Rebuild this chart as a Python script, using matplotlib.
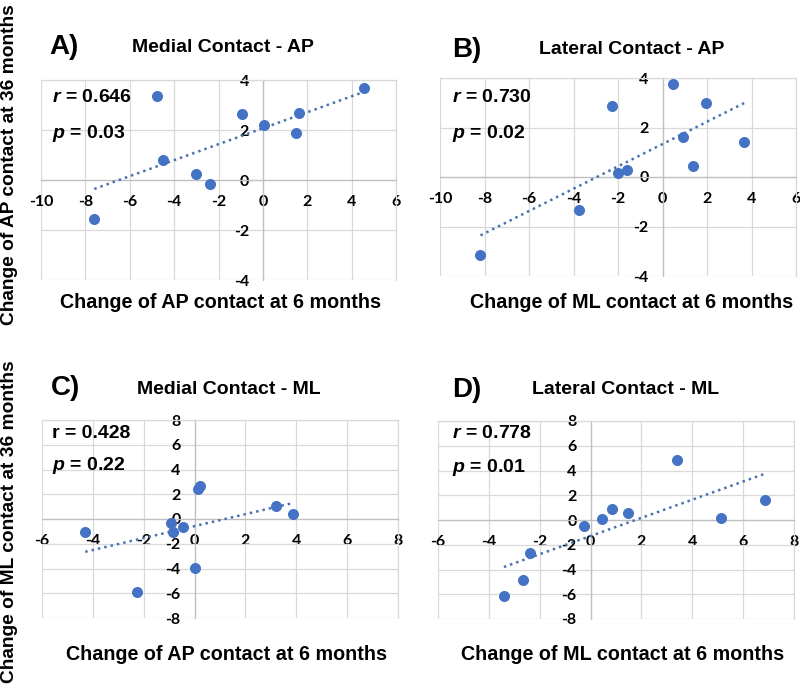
import numpy as np
import matplotlib
matplotlib.use("Agg")
import matplotlib.pyplot as plt

plt.rcParams["font.family"] = ["Liberation Sans", "DejaVu Sans"]
plt.rcParams["mathtext.fontset"] = "custom"
plt.rcParams["mathtext.it"] = "Liberation Sans:italic:bold"
plt.rcParams["mathtext.rm"] = "Liberation Sans:bold"
plt.rcParams["axes.unicode_minus"] = False

# data
a_x = [-4.79, 4.55, -0.92, 1.64, 0.06, 1.49, -4.52, -3.02, -2.40, -7.60]
a_y = [3.36, 3.67, 2.64, 2.67, 2.20, 1.89, 0.80, 0.24, -0.16, -1.56]

b_x = [0.48, -2.26, 1.94, 0.93, 3.68, 1.35, -2.00, -1.61, -3.77, -8.18]
b_y = [3.77, 2.85, 3.00, 1.60, 1.40, 0.46, 0.18, 0.27, -1.33, -3.15]

c_x = [0.20, 0.12, 3.19, 3.87, -0.93, -0.46, -0.84, -4.30, 0.03, -2.27]
c_y = [2.70, 2.45, 1.08, 0.38, -0.32, -0.65, -1.08, -1.08, -3.96, -5.93]

d_x = [3.39, 6.87, 5.11, 0.84, 1.47, 0.43, -0.26, -2.40, -2.65, -3.41]
d_y = [4.85, 1.62, 0.16, 0.89, 0.54, 0.05, -0.49, -2.64, -4.88, -6.15]

panels = [
    dict(x=a_x, y=a_y, letter="A)", title="Medial Contact - AP",
         r=r"$r$ = 0.646", p=r"$p$ = 0.03", xlabel="Change of AP contact at 6 months",
         xlim=(-10, 6), ylim=(-4, 4), xstep=2, ystep=2,
         box=(41, 80, 396, 280), letter_pos=(49, 47), title_pos=(223, 48),
         r_pos=(52, 97), p_pos=(52, 133), xl_pos=(220, 302)),
    dict(x=b_x, y=b_y, letter="B)", title="Lateral Contact - AP",
         r=r"$r$ = 0.730", p=r"$p$ = 0.02", xlabel="Change of ML contact at 6 months",
         xlim=(-10, 6), ylim=(-4, 4), xstep=2, ystep=2,
         box=(440, 78, 796, 276), letter_pos=(452, 50), title_pos=(632, 50),
         r_pos=(452, 97), p_pos=(452, 133), xl_pos=(632, 302)),
    dict(x=c_x, y=c_y, letter="C)", title="Medial Contact - ML",
         r="r = 0.428", p=r"$p$ = 0.22", xlabel="Change of AP contact at 6 months",
         xlim=(-6, 8), ylim=(-8, 8), xstep=2, ystep=2,
         box=(42, 420, 398, 618), letter_pos=(51, 388), title_pos=(229, 389),
         r_pos=(52, 434), p_pos=(52, 465), xl_pos=(227, 655)),
    dict(x=d_x, y=d_y, letter="D)", title="Lateral Contact - ML",
         r=r"$r$ = 0.778", p=r"$p$ = 0.01", xlabel="Change of ML contact at 6 months",
         xlim=(-6, 8), ylim=(-8, 8), xstep=2, ystep=2,
         box=(438, 421, 794, 619), letter_pos=(452, 390), title_pos=(626, 389),
         r_pos=(452, 434), p_pos=(452, 467), xl_pos=(623, 655)),
]

W, H = 800, 690
fig = plt.figure(figsize=(8, 6.9), dpi=100)

def fx(px):
    return px / W

def fy(py):
    return 1 - py / H

blue = "#4472C4"

for pn in panels:
    x0, y0, x1, y1 = pn["box"]
    ax = fig.add_axes([fx(x0), fy(y1), (x1 - x0) / W, (y1 - y0) / H])
    ax.set_xlim(pn["xlim"])
    ax.set_ylim(pn["ylim"])
    ax.set_xticks(np.arange(pn["xlim"][0], pn["xlim"][1] + 0.1, pn["xstep"]))
    ax.set_yticks(np.arange(pn["ylim"][0], pn["ylim"][1] + 0.1, pn["ystep"]))
    ax.grid(True, color="#d9d9d9", lw=0.9)
    ax.set_axisbelow(True)
    ax.spines["left"].set_position(("data", 0))
    ax.spines["bottom"].set_position(("data", 0))
    ax.spines["left"].set_color("#bfbfbf")
    ax.spines["bottom"].set_color("#bfbfbf")
    ax.spines["top"].set_color("#d9d9d9")
    ax.spines["right"].set_color("#d9d9d9")
    for s in ax.spines.values():
        s.set_linewidth(0.9)
    ax.tick_params(axis="x", length=0, pad=11)
    ax.tick_params(axis="y", length=0, pad=10)
    for lab in ax.get_xticklabels() + ax.get_yticklabels():
        lab.set_fontfamily("Lato")
        lab.set_fontweight("bold")
        lab.set_fontsize(11.5)
        lab.set_clip_on(False)

    xs = np.array(pn["x"])
    ys = np.array(pn["y"])
    k, b = np.polyfit(xs, ys, 1)
    tx = np.array([xs.min(), xs.max()])
    ax.plot(tx, k * tx + b, color="#4a72b0", lw=1.8, ls=(0, (1, 1.6)), zorder=3)
    ax.scatter(xs, ys, s=48, color=blue, zorder=5, clip_on=False)

    fig.text(fx(pn["letter_pos"][0]), fy(pn["letter_pos"][1]), pn["letter"],
             fontsize=20, fontweight="bold", ha="left", va="center")
    fig.text(fx(pn["title_pos"][0]), fy(pn["title_pos"][1]), pn["title"],
             fontsize=14, fontweight="bold", ha="center", va="center")
    fig.text(fx(pn["r_pos"][0]), fy(pn["r_pos"][1]), pn["r"],
             fontsize=14, fontweight="bold", ha="left", va="center")
    fig.text(fx(pn["p_pos"][0]), fy(pn["p_pos"][1]), pn["p"],
             fontsize=14, fontweight="bold", ha="left", va="center")
    fig.text(fx(pn["xl_pos"][0]), fy(pn["xl_pos"][1]), pn["xlabel"],
             fontsize=14.2, fontweight="bold", ha="center", va="center")

fig.text(fx(10), fy(165), "Change of AP contact at 36 months", rotation=90,
         fontsize=13.8, fontweight="bold", ha="center", va="center")
fig.text(fx(10), fy(522), "Change of ML contact at 36 months", rotation=90,
         fontsize=13.8, fontweight="bold", ha="center", va="center")

fig.savefig("out.png", dpi=100)
